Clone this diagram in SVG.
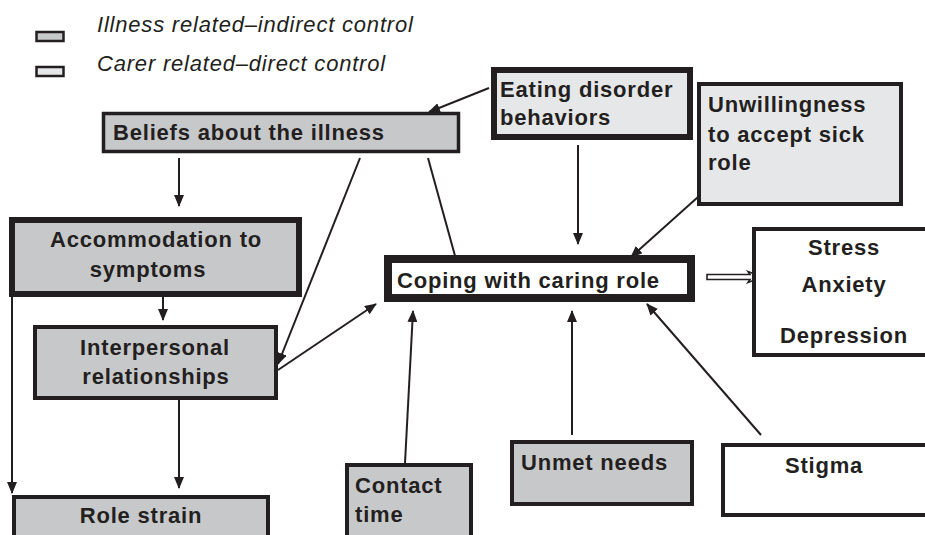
<svg xmlns="http://www.w3.org/2000/svg" width="925" height="535" viewBox="0 0 925 535">
  <style>
    .box { stroke: #231f20; stroke-linejoin: miter; }
    .ill { fill: #c7c8ca; }
    .car { fill: #e6e7e8; }
    .out { fill: #ffffff; }
    .lbl { font-family: "Liberation Sans", Arial, sans-serif; font-weight: bold; font-size: 22px; letter-spacing: 0.8px; fill: #231f20; }
    .mid { text-anchor: middle; }
    .leg { font-family: "Liberation Sans", Arial, sans-serif; font-style: italic; font-size: 22px; letter-spacing: 0.8px; fill: #231f20; }
    .edge { fill: none; stroke: #231f20; stroke-width: 2; marker-end: url(#head); }
    .plain { fill: none; stroke: #231f20; stroke-width: 2; }
  </style>
  <defs>
    <marker id="head" markerUnits="userSpaceOnUse" markerWidth="12" markerHeight="10" refX="11" refY="5" orient="auto">
      <path d="M0,0 L12,5 L0,10 Z" fill="#231f20"/>
    </marker>
  </defs>

  <rect width="925" height="535" fill="#ffffff"/>

  <!-- legend -->
  <g id="legend">
    <rect class="box ill" x="36.5" y="32" width="27" height="9" stroke-width="2.5"/>
    <text class="leg" x="97" y="32">Illness related–indirect control</text>
    <rect class="box car" x="36.5" y="67" width="27" height="9" stroke-width="2.5"/>
    <text class="leg" x="97" y="71">Carer related–direct control</text>
  </g>

  <!-- connectors -->
  <g id="connectors">
    <line class="edge" x1="489" y1="88" x2="429" y2="112"/>
    <line class="edge" x1="179" y1="158" x2="179" y2="206"/>
    <line class="edge" x1="163" y1="297" x2="163" y2="320"/>
    <line class="edge" x1="179" y1="400" x2="179" y2="488"/>
    <line class="edge" x1="12" y1="297" x2="12" y2="493"/>
    <line class="edge" x1="360" y1="158" x2="278" y2="364"/>
    <line class="edge" x1="278" y1="370" x2="376" y2="304"/>
    <line class="plain" x1="428" y1="158" x2="457" y2="263"/>
    <line class="edge" x1="578" y1="145" x2="578" y2="244"/>
    <line class="edge" x1="698" y1="197" x2="631" y2="257"/>
    <line class="edge" x1="405" y1="463" x2="413" y2="311"/>
    <line class="edge" x1="572" y1="435" x2="572" y2="311"/>
    <line class="edge" x1="761" y1="435" x2="647" y2="304"/>
    <!-- hollow outcome arrow -->
    <path d="M707,274.5 H750 L748,271.5 L763,277 L748,282.5 L750,279.5 H707 Z" fill="#ffffff" stroke="#231f20" stroke-width="1.6" stroke-linejoin="miter"/>
  </g>

  <g id="beliefs">
    <rect class="box ill" x="103.5" y="113.5" width="355" height="38" stroke-width="3.5"/>
    <text class="lbl" x="113" y="140">Beliefs about the illness</text>
  </g>

  <g id="eating">
    <rect class="box car" x="494" y="70" width="196" height="67" stroke-width="6"/>
    <text class="lbl" x="500" y="97">Eating disorder</text>
    <text class="lbl" x="500" y="125">behaviors</text>
  </g>

  <g id="unwillingness">
    <rect class="box car" x="699" y="84" width="202" height="120" stroke-width="4"/>
    <text class="lbl" x="708" y="112">Unwillingness</text>
    <text class="lbl" x="708" y="142">to accept sick</text>
    <text class="lbl" x="708" y="170">role</text>
  </g>

  <g id="accommodation">
    <rect class="box ill" x="12" y="220" width="287" height="74" stroke-width="6"/>
    <text class="lbl mid" x="156" y="247">Accommodation to</text>
    <text class="lbl mid" x="148" y="277">symptoms</text>
  </g>

  <g id="coping">
    <rect class="box out" x="388" y="259" width="303" height="39" stroke-width="8"/>
    <text class="lbl" x="397" y="288">Coping with caring role</text>
  </g>

  <g id="outcomes">
    <rect class="box out" x="754" y="229" width="200" height="126" stroke-width="4"/>
    <text class="lbl mid" x="844" y="255">Stress</text>
    <text class="lbl mid" x="844" y="292">Anxiety</text>
    <text class="lbl mid" x="844" y="343">Depression</text>
  </g>

  <g id="interpersonal">
    <rect class="box ill" x="35" y="327" width="241" height="71" stroke-width="4"/>
    <text class="lbl mid" x="155" y="355">Interpersonal</text>
    <text class="lbl mid" x="156" y="384">relationships</text>
  </g>

  <g id="unmet">
    <rect class="box ill" x="512" y="442" width="180" height="62" stroke-width="4"/>
    <text class="lbl" x="521" y="470">Unmet needs</text>
  </g>

  <g id="stigma">
    <rect class="box out" x="723" y="445" width="220" height="70" stroke-width="4"/>
    <text class="lbl" x="785" y="473">Stigma</text>
  </g>

  <g id="rolestrain">
    <rect class="box ill" x="14" y="497" width="254" height="60" stroke-width="4"/>
    <text class="lbl mid" x="141" y="523">Role strain</text>
  </g>

  <g id="contact">
    <rect class="box ill" x="347" y="465" width="124" height="80" stroke-width="4"/>
    <text class="lbl" x="355" y="493">Contact</text>
    <text class="lbl" x="355" y="522">time</text>
  </g>
</svg>
